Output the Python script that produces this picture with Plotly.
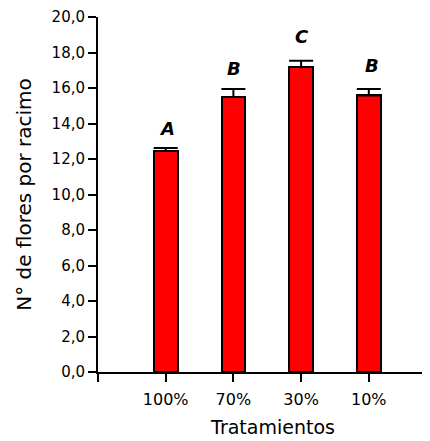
import plotly.graph_objects as go

categories = ["100%", "70%", "30%", "10%"]
means = [12.45, 15.49, 17.19, 15.58]
errors = [0.17, 0.45, 0.35, 0.36]
letters = ["A", "B", "C", "B"]
letter_shift = [20, 21, 24, 24]
y_tickvals = [0, 2, 4, 6, 8, 10, 12, 14, 16, 18, 20]
y_ticktext = ["0,0", "2,0", "4,0", "6,0", "8,0", "10,0", "12,0", "14,0", "16,0", "18,0", "20,0"]

xpos = list(range(len(categories)))
FONT = "DejaVu Sans"

fig = go.Figure()
fig.add_trace(go.Bar(
    x=xpos, y=means, width=0.35,
    marker=dict(color="#ff0000", line=dict(color="black", width=2)),
    error_y=dict(type="data", array=errors, arrayminus=[0]*len(errors), symmetric=False,
                 color="black", thickness=2, width=12),
))

for i, (m, e, l, s) in enumerate(zip(means, errors, letters, letter_shift)):
    fig.add_annotation(x=i, y=m + e, text="<b><i>" + l + "</i></b>", showarrow=False,
                       yshift=s, font=dict(family=FONT, size=18, color="black"),
                       xshift=3 if i == 3 else 1)

fig.update_layout(
    width=440, height=441,
    margin=dict(l=90, r=0, t=9, b=77),
    plot_bgcolor="white", paper_bgcolor="white",
    showlegend=False,
    font=dict(family=FONT, color="black", size=15),
    bargap=0,
)
fig.update_xaxes(
    range=[-1, 4.17], tickvals=[-1] + xpos, ticktext=[""] + categories,
    showline=True, linecolor="black", linewidth=2,
    ticks="outside", ticklen=8, tickwidth=2, tickcolor="black",
    showgrid=False, zeroline=False, automargin=False,
    tickfont=dict(size=16), ticklabelstandoff=4,
    title=dict(text="Tratamientos", font=dict(size=19), standoff=12),
)
fig.update_yaxes(
    range=[0, 20], tickvals=y_tickvals, ticktext=y_ticktext,
    showline=True, linecolor="black", linewidth=2,
    ticks="outside", ticklen=8, tickwidth=2, tickcolor="black",
    showgrid=False, zeroline=False, automargin=False,
    tickfont=dict(size=15), ticklabeloverflow="allow",
    title=dict(text="N° de flores por racimo", font=dict(size=20), standoff=15),
)

fig.write_html("out.html")
